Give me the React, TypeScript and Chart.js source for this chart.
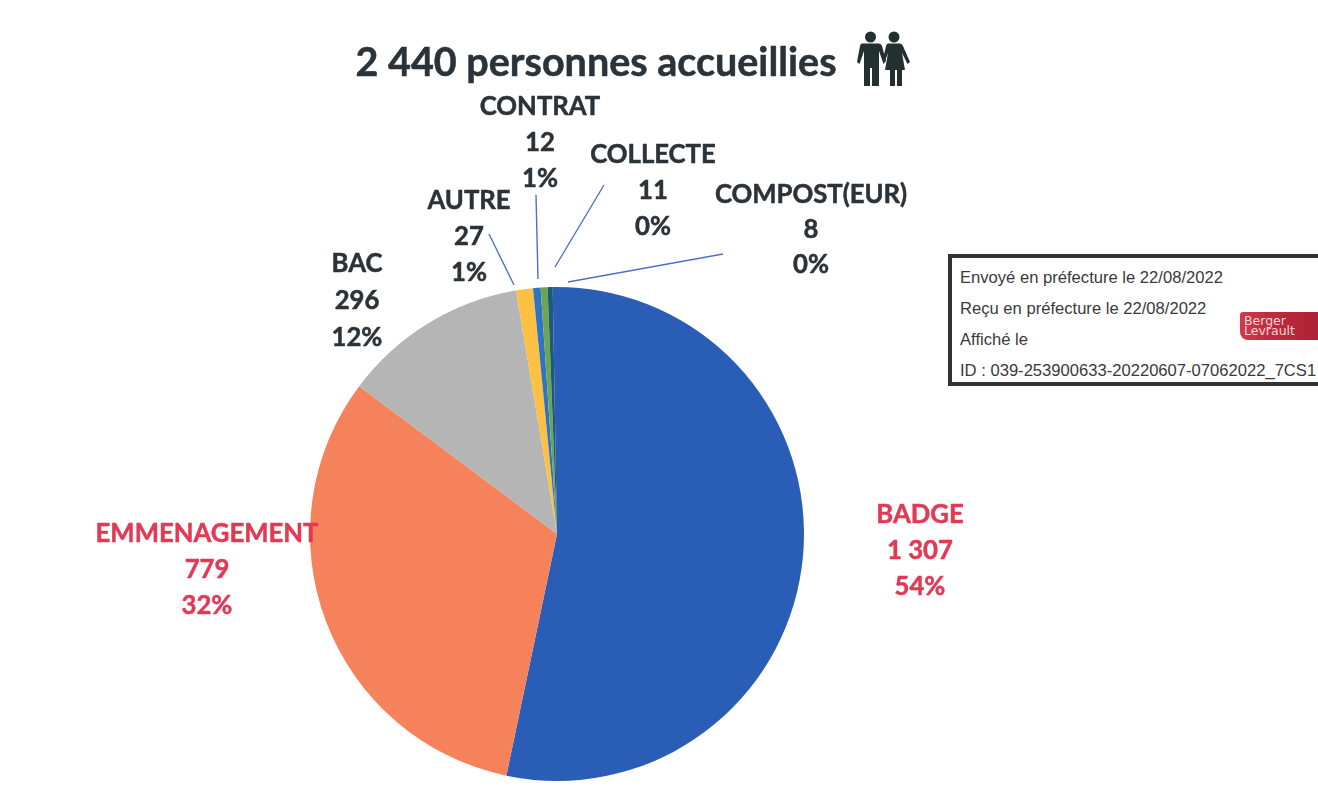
import React, { useEffect, useRef } from "react";
import { Chart, registerables } from "chart.js";

Chart.register(...registerables);

const titleText = "2 440 personnes accueillies";
const categories = ["BADGE", "EMMENAGEMENT", "BAC", "AUTRE", "CONTRAT", "COLLECTE", "COMPOST(EUR)"];
const values = [1307, 779, 296, 27, 12, 11, 8];
const valueLabels = ["1 307", "779", "296", "27", "12", "11", "8"];
const percentLabels = ["54%", "32%", "12%", "1%", "1%", "0%", "0%"];
const sliceColors = ["#2a5db5", "#f5825a", "#b5b5b5", "#fcc043", "#2f74c4", "#6da552", "#1d5a78"];
const labelColors = ["#e23a55", "#e23a55", "#2b3238", "#2b3238", "#2b3238", "#2b3238", "#2b3238"];
const labelAnchors = [
  [920, 514.5, 36], [207, 533.5, 36], [357, 263.5, 37], [469, 201, 36],
  [540, 106.5, 36], [653, 154.5, 36], [811, 194.5, 35],
];
const leaderLines = [
  [489, 234, 514, 285], [536, 195, 538, 279], [604, 185, 555, 267], [723, 254, 568, 282],
];
const stampLines = [
  "Envoyé en préfecture le 22/08/2022",
  "Reçu en préfecture le 22/08/2022",
  "Affiché le",
  "ID : 039-253900633-20220607-07062022_7CS1",
];

function heavyText(ctx: CanvasRenderingContext2D, text: string, x: number, y: number) {
  ctx.strokeText(text, x, y);
  ctx.fillText(text, x, y);
}

const annotations = {
  id: "annotations",
  afterDraw(chart: Chart) {
    const ctx = chart.ctx;
    ctx.save();
    ctx.strokeStyle = "#4a72c8";
    ctx.lineWidth = 1.4;
    leaderLines.forEach(([x1, y1, x2, y2]) => {
      ctx.beginPath();
      ctx.moveTo(x1, y1);
      ctx.lineTo(x2, y2);
      ctx.stroke();
    });
    ctx.textAlign = "center";
    ctx.textBaseline = "middle";
    ctx.lineJoin = "round";
    ctx.lineWidth = 0.5;
    ctx.fillStyle = "#2b3238";
    ctx.strokeStyle = "#2b3238";
    ctx.font = "bold 39.5px Lato";
    heavyText(ctx, titleText, 596, 63);
    ctx.font = "bold 25.7px Lato";
    categories.forEach((cat, i) => {
      const [x, y, step] = labelAnchors[i];
      ctx.fillStyle = labelColors[i];
      ctx.strokeStyle = labelColors[i];
      heavyText(ctx, cat, x, y);
      heavyText(ctx, valueLabels[i], x, y + step);
      heavyText(ctx, percentLabels[i], x, y + 2 * step);
    });
    ctx.restore();
  },
};

const People = () => (
  <svg width="80" height="80" viewBox="0 0 80 80" style={{ position: "absolute", left: 840, top: 20 }}>
    <g fill="#22302f">
      <circle cx="30.5" cy="17" r="5.5" />
      <path d="M22 23.5 H39 Q41 23.5 42 26 L46 41 L43.5 44 L39 31 V66 H32 V48 H30 V66 H24 V31 L19.5 44 L17 42 L20 26 Q20.5 23.5 22 23.5 Z" />
      <circle cx="54" cy="17" r="5.5" />
      <path d="M48 23.5 H60 Q62 23.5 63 26 L70 42 L67.5 44 L62 33 L65 50 H62 V66 H57 V50 H55 V66 H50 V50 H45 L48 33 L45 41 L43 39 L46 26 Q46.5 23.5 48 23.5 Z" />
    </g>
  </svg>
);

export default function App() {
  const ref = useRef<HTMLCanvasElement>(null);
  useEffect(() => {
    document.body.style.margin = "0";
    document.body.style.overflow = "hidden";
    const chart = new Chart(ref.current!, {
      type: "pie",
      data: {
        labels: categories,
        datasets: [{ data: values, backgroundColor: sliceColors, borderWidth: 0 }],
      },
      options: {
        responsive: false,
        animation: false,
        rotation: -1,
        layout: { padding: { left: 310, right: 514, top: 287, bottom: 5 } },
        plugins: { legend: { display: false }, tooltip: { enabled: false } },
      },
      plugins: [annotations],
    });
    return () => chart.destroy();
  }, []);
  return (
    <div style={{ position: "relative", width: 1318, height: 786, overflow: "hidden", background: "#fff" }}>
      <canvas ref={ref} width={1318} height={786} style={{ position: "absolute", left: 0, top: 0 }} />
      <People />
      <div
        style={{
          position: "absolute", left: 948, top: 254, width: 400, height: 124,
          border: "4px solid #333", background: "#fff",
          font: "16.6px 'Liberation Sans'", color: "#3a3a3a", boxSizing: "content-box",
        }}
      >
        {stampLines.map((line, i) => (
          <div key={i} style={{ position: "absolute", left: 8, top: 4 + i * 31, height: 31, lineHeight: "31px", whiteSpace: "nowrap" }}>
            {line}
          </div>
        ))}
        <div
          style={{
            position: "absolute", left: 288, top: 54, width: 90, height: 28,
            background: "linear-gradient(90deg, #d03a4c 0%, #c02a3e 35%, #a82034 100%)",
            borderRadius: "3px 0 0 8px", color: "#f6d5d8", font: "12.5px/10px 'DejaVu Sans'", padding: "4px 0 0 4px", boxSizing: "border-box",
          }}
        >
          Berger
          <br />
          Levrault
        </div>
      </div>
    </div>
  );
}
